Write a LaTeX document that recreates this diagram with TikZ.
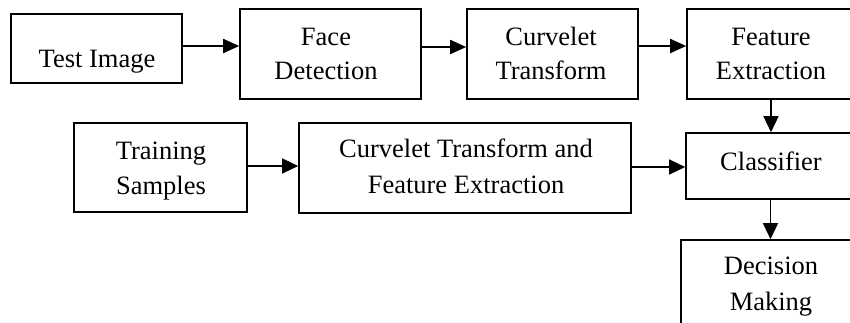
\documentclass[tikz,border=0pt]{standalone}
\usepackage{fontspec}
\setmainfont{Liberation Serif}
\usetikzlibrary{arrows.meta}
\begin{document}
\begin{tikzpicture}[x=1pt,y=-1pt,
  box/.style={draw,line width=1.6pt,inner sep=0pt,minimum width=#1},
  txt/.style={inner sep=0pt,anchor=base,font=\fontsize{26.5pt}{32pt}\selectfont},
  arr/.style={line width=1.8pt,-{Triangle[length=16pt,width=14pt]}},
  arrt/.style={line width=1.3pt,-{Triangle[length=16pt,width=15pt]}}]
\useasboundingbox (0,0) rectangle (850,322);
\clip (0,0) rectangle (850,322);
% boxes
\node[draw,line width=1.6pt,inner sep=0pt,minimum width=171pt,minimum height=69pt] (ti) at (96.5,48.5) {};
\node[draw,line width=1.6pt,inner sep=0pt,minimum width=181pt,minimum height=90pt] (fd) at (330.5,54) {};
\node[draw,line width=1.6pt,inner sep=0pt,minimum width=171pt,minimum height=90pt] (ct) at (552.5,54) {};
\node[draw,line width=1.6pt,inner sep=0pt,minimum width=168pt,minimum height=90pt] (fe) at (771,54) {};
\node[draw,line width=1.6pt,inner sep=0pt,minimum width=173pt,minimum height=89pt] (ts) at (160.5,167.5) {};
\node[draw,line width=1.6pt,inner sep=0pt,minimum width=332pt,minimum height=90pt] (ctfe) at (465,168) {};
\node[draw,line width=1.6pt,inner sep=0pt,minimum width=170pt,minimum height=66pt] (cl) at (771,166) {};
\node[draw,line width=1.6pt,inner sep=0pt,minimum width=179pt,minimum height=120pt] (dm) at (770.5,300) {};
% texts
\node[txt] (tiA) at (97,67.5) {Test Image};
\node[txt] (fdA) at (326,45) {Face};
\node[txt] (fdB) at (326,79) {Detection};
\node[txt] (ctA) at (551,45) {Curvelet};
\node[txt] (ctB) at (551,79) {Transform};
\node[txt] (feA) at (771,45) {Feature};
\node[txt] (feB) at (771,79) {Extraction};
\node[txt] (tsA) at (161,159) {Training};
\node[txt] (tsB) at (161,194) {Samples};
\node[txt] (ctfeA) at (466,157) {Curvelet Transform and};
\node[txt] (ctfeB) at (466,193) {Feature Extraction};
\node[txt] (clA) at (771,170) {Classifier};
\node[txt] (dmA) at (771,274) {Decision};
\node[txt] (dmB) at (771,310) {Making};
% connectors
\draw[arr] (ti.east |- 0,46) -- (fd.west |- 0,46);
\draw[arr] (fd.east |- 0,47) -- (ct.west |- 0,47);
\draw[arr] (ct.east |- 0,46) -- (fe.west |- 0,46);
\draw[arrt] (fe.south) -- (cl.north);
\draw[arrt] (ts.east |- 0,166) -- (ctfe.west |- 0,166);
\draw[arrt] (ctfe.east |- 0,167) -- (cl.west |- 0,167);
\draw[arrt] (cl.south -| dm.north) -- (dm.north);
\end{tikzpicture}
\end{document}
